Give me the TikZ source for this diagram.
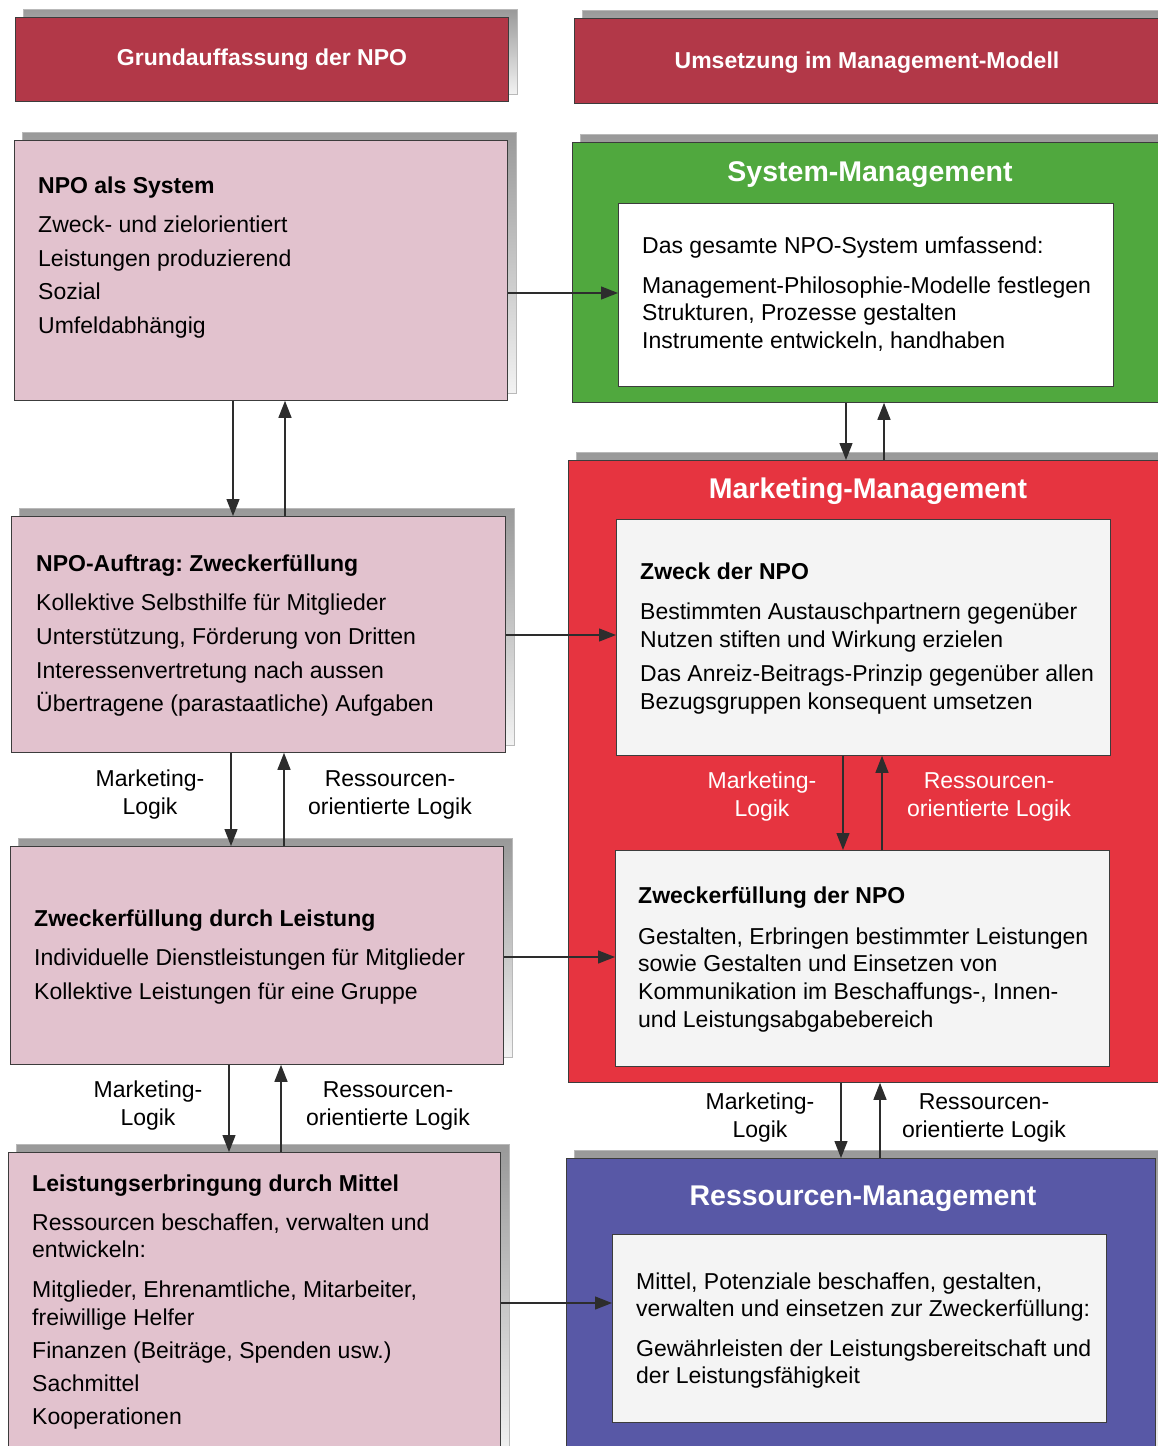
\documentclass[tikz,border=0pt]{standalone}
\usepackage{fontspec}
\setmainfont{Liberation Sans}
\usetikzlibrary{arrows.meta,calc}
\pgfdeclarelayer{bg}
\pgfsetlayers{bg,main}
\frenchspacing
\definecolor{headred}{RGB}{178,56,72}
\definecolor{pinkbox}{RGB}{226,194,206}
\definecolor{sysgreen}{RGB}{80,168,62}
\definecolor{mktred}{RGB}{230,52,64}
\definecolor{resblue}{RGB}{88,88,166}
\definecolor{innergrey}{RGB}{244,244,244}
\definecolor{linec}{RGB}{60,60,60}
\definecolor{arrc}{RGB}{45,45,45}
\newcommand\bodyfs{\fontsize{23}{28}\selectfont}
\newcommand\titlefs{\fontsize{28.5}{32}\selectfont\bfseries}
\begin{document}
\begin{tikzpicture}[x=1pt,y=-1pt,
  box/.style={draw=linec, line width=0.8pt, inner sep=0pt, anchor=north west},
  headbox/.style={box, fill=headred},
  pbox/.style={box, fill=pinkbox},
  ibox/.style={box, fill=innergrey},
  txt/.style={anchor=base west, inner sep=0pt, font=\bodyfs, text=black},
  hd/.style={txt, font=\bodyfs\bfseries},
  ttl/.style={anchor=base, inner sep=0pt, font=\titlefs, text=white},
  htl/.style={anchor=base, inner sep=0pt, font=\bodyfs\bfseries, text=white},
  lbl/.style={align=center, inner sep=0pt, font=\bodyfs},
  arr/.style={draw=arrc, line width=1.3pt, -{Triangle[length=17pt,width=13pt]}},
  shad/.style={top color=gray!80, bottom color=gray!10, draw=gray!55, line width=0.6pt}
]
\useasboundingbox (0,0) rectangle (1158,1446);

% ---------- headers ----------
\node[headbox, minimum width=493pt, minimum height=84pt] (hL) at (15,17) {};
\node[headbox, minimum width=592pt, minimum height=85pt] (hR) at (574,18) {};
\node[htl] (hLt) at (262,65) {Grundauffassung der NPO};
\node[htl] (hRt) at (867,68) {Umsetzung im Management-Modell};

% ---------- left column ----------
\node[pbox, minimum width=493pt, minimum height=260pt] (b1) at (14,140) {};
\node[hd]  (b1h) at (38,193) {NPO als System};
\node[txt] (b1a) at (38,232) {Zweck- und zielorientiert};
\node[txt] (b1b) at (38,266) {Leistungen produzierend};
\node[txt] (b1c) at (38,299) {Sozial};
\node[txt] (b1d) at (38,333) {Umfeldabhängig};

\node[pbox, minimum width=494pt, minimum height=236pt] (b2) at (11,516) {};
\node[hd]  (b2h) at (36,571) {NPO-Auftrag: Zweckerfüllung};
\node[txt] (b2a) at (36,610) {Kollektive Selbsthilfe für Mitglieder};
\node[txt] (b2b) at (36,644) {Unterstützung, Förderung von Dritten};
\node[txt] (b2c) at (36,678) {Interessenvertretung nach aussen};
\node[txt] (b2d) at (36,711) {Übertragene (parastaatliche) Aufgaben};

\node[pbox, minimum width=493pt, minimum height=218pt] (b3) at (10,846) {};
\node[hd]  (b3h) at (34,926) {Zweckerfüllung durch Leistung};
\node[txt] (b3a) at (34,965) {Individuelle Dienstleistungen für Mitglieder};
\node[txt] (b3b) at (34,999) {Kollektive Leistungen für eine Gruppe};

\node[pbox, minimum width=492pt, minimum height=310pt] (b4) at (8,1152) {};
\node[hd]  (b4h) at (32,1191) {Leistungserbringung durch Mittel};
\node[txt] (b4a) at (32,1230) {Ressourcen beschaffen, verwalten und};
\node[txt] (b4b) at (32,1257) {entwickeln:};
\node[txt] (b4c) at (32,1297) {Mitglieder, Ehrenamtliche, Mitarbeiter,};
\node[txt] (b4d) at (32,1325) {freiwillige Helfer};
\node[txt] (b4e) at (32,1358) {Finanzen (Beiträge, Spenden usw.)};
\node[txt] (b4f) at (32,1391) {Sachmittel};
\node[txt] (b4g) at (32,1424) {Kooperationen};

% ---------- right column ----------
\node[box, fill=sysgreen, minimum width=592pt, minimum height=260pt] (gS) at (572,142) {};
\node[ttl] (gSt) at (870,181) {System-Management};
\node[box, fill=white, minimum width=495pt, minimum height=183pt] (gI) at (618,203) {};
\node[txt] (gIa) at (642,253) {Das gesamte NPO-System umfassend:};
\node[txt] (gIb) at (642,293) {Management-Philosophie-Modelle festlegen};
\node[txt] (gIc) at (642,320) {Strukturen, Prozesse gestalten};
\node[txt] (gId) at (642,348) {Instrumente entwickeln, handhaben};

\node[box, fill=mktred, minimum width=590pt, minimum height=622pt] (mR) at (568,460) {};
\node[ttl] (mRt) at (868,498) {Marketing-Management};
\node[ibox, minimum width=494pt, minimum height=236pt] (mI1) at (616,519) {};
\node[hd]  (mI1h) at (640,579) {Zweck der NPO};
\node[txt] (mI1a) at (640,619) {Bestimmten Austauschpartnern gegenüber};
\node[txt] (mI1b) at (640,647) {Nutzen stiften und Wirkung erzielen};
\node[txt] (mI1c) at (640,681) {Das Anreiz-Beitrags-Prinzip gegenüber allen};
\node[txt] (mI1d) at (640,709) {Bezugsgruppen konsequent umsetzen};
\node[ibox, minimum width=494pt, minimum height=216pt] (mI2) at (615,850) {};
\node[hd]  (mI2h) at (638,903) {Zweckerfüllung der NPO};
\node[txt] (mI2a) at (638,944) {Gestalten, Erbringen bestimmter Leistungen};
\node[txt] (mI2b) at (638,971) {sowie Gestalten und Einsetzen von};
\node[txt] (mI2c) at (638,999) {Kommunikation im Beschaffungs-, Innen-};
\node[txt] (mI2d) at (638,1027) {und Leistungsabgabebereich};

\node[box, fill=resblue, minimum width=589pt, minimum height=310pt] (rB) at (566,1158) {};
\node[ttl] (rBt) at (863,1205) {Ressourcen-Management};
\node[ibox, minimum width=494pt, minimum height=188pt] (rI) at (612,1234) {};
\node[txt] (rIa) at (636,1289) {Mittel, Potenziale beschaffen, gestalten,};
\node[txt] (rIb) at (636,1316) {verwalten und einsetzen zur Zweckerfüllung:};
\node[txt] (rIc) at (636,1356) {Gewährleisten der Leistungsbereitschaft und};
\node[txt] (rId) at (636,1383) {der Leistungsfähigkeit};

% ---------- shadows ----------
\begin{pgfonlayer}{bg}
\foreach \b in {hL,hR,b1,b2,b3,b4,gS,mR,rB}{
  \shade[shad] ($(\b.north west)+(8,-8)$) rectangle ($(\b.south east)+(8,-8)$);
}
\end{pgfonlayer}

% ---------- logic labels ----------
\node[lbl] (l1m) at (150,795) {Marketing-\\Logik};
\node[lbl] (l1r) at (390,795) {Ressourcen-\\orientierte Logik};
\node[lbl] (l2m) at (148,1106) {Marketing-\\Logik};
\node[lbl] (l2r) at (388,1106) {Ressourcen-\\orientierte Logik};
\node[lbl, text=white] (l3m) at (762,797) {Marketing-\\Logik};
\node[lbl, text=white] (l3r) at (989,797) {Ressourcen-\\orientierte Logik};
\node[lbl] (l4m) at (760,1118) {Marketing-\\Logik};
\node[lbl] (l4r) at (984,1118) {Ressourcen-\\orientierte Logik};

% ---------- arrow columns ----------
\coordinate (c1d) at (233,0); \coordinate (c1u) at (285,0);
\coordinate (c2d) at (231,0); \coordinate (c2u) at (284,0);
\coordinate (c3d) at (229,0); \coordinate (c3u) at (281,0);
\coordinate (c4d) at (846,0); \coordinate (c4u) at (884,0);
\coordinate (c5d) at (843,0); \coordinate (c5u) at (882,0);
\coordinate (c6d) at (841,0); \coordinate (c6u) at (880,0);
\coordinate (r1) at (0,293); \coordinate (r2) at (0,635);
\coordinate (r3) at (0,957); \coordinate (r4) at (0,1303);

\draw[arr] (b1.south -| c1d) -- (b2.north -| c1d);
\draw[arr] (b2.north -| c1u) -- (b1.south -| c1u);
\draw[arr] (b2.south -| c2d) -- (b3.north -| c2d);
\draw[arr] (b3.north -| c2u) -- (b2.south -| c2u);
\draw[arr] (b3.south -| c3d) -- (b4.north -| c3d);
\draw[arr] (b4.north -| c3u) -- (b3.south -| c3u);

\draw[arr] (gS.south -| c4d) -- (mR.north -| c4d);
\draw[arr] (mR.north -| c4u) -- (gS.south -| c4u);
\draw[arr] (mI1.south -| c5d) -- (mI2.north -| c5d);
\draw[arr] (mI2.north -| c5u) -- (mI1.south -| c5u);
\draw[arr] (mR.south -| c6d) -- (rB.north -| c6d);
\draw[arr] (rB.north -| c6u) -- (mR.south -| c6u);

\draw[arr] (b1.east |- r1) -- (gI.west |- r1);
\draw[arr] (b2.east |- r2) -- (mI1.west |- r2);
\draw[arr] (b3.east |- r3) -- (mI2.west |- r3);
\draw[arr] (b4.east |- r4) -- (rI.west |- r4);
\end{tikzpicture}
\end{document}
